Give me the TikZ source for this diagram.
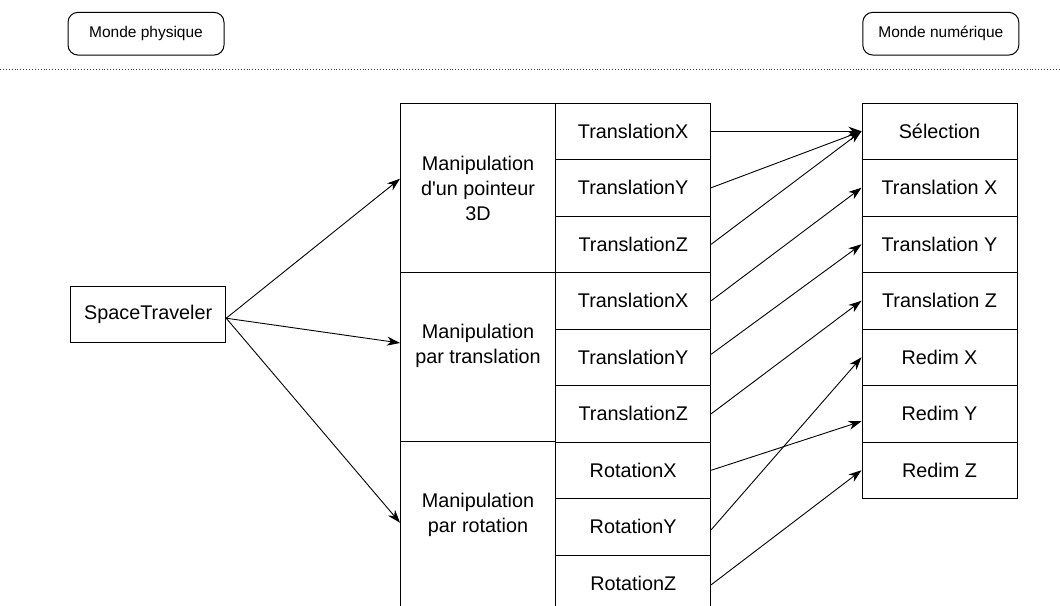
\documentclass[tikz,border=0pt]{standalone}
\usepackage{fontspec}
\setmainfont{Liberation Sans}[Ligatures=TeXOff]
\usetikzlibrary{arrows.meta,calc}
\tikzset{
  box/.style={draw=black, line width=1pt, inner sep=0pt, fill=white},
  lbl/.style={font=\fontsize{19.8}{25}\selectfont, align=center, inner sep=0pt},
  toplbl/.style={draw=black, line width=1pt, rounded corners=10pt, minimum width=156pt, minimum height=42.7pt, font=\fontsize{15.5}{19}\selectfont, inner sep=0pt},
  conn/.style={line width=0.9pt, -{Stealth[length=13pt,width=9pt,inset=4pt]}},
  sep/.style={line width=0.9pt, dotted, black!75}
}
\begin{document}
\begin{tikzpicture}[x=1pt,y=-1pt]
\clip (0,0) rectangle (1060,605);
\fill[white] (0,0) rectangle (1060,605);
% top labels
\node[toplbl] (mp) at (146,33.7) {Monde physique};
\node[toplbl] (mn) at (940.8,33.7) {Monde numérique};
\coordinate (dl) at (0,69.3);
\coordinate (dr) at (1060,69.3);
\draw[sep] (dl) -- (dr);
% SpaceTraveler
\node[box, lbl, minimum width=155pt, minimum height=56pt] (st) at (148.2,314.7) {SpaceTraveler};
% big boxes
\node[box, minimum width=155pt, minimum height=169.5pt] (b1) at (478,187.75) {};
\node[box, minimum width=155pt, minimum height=169pt] (b2) at (478,357) {};
\node[box, minimum width=155pt, minimum height=170pt] (b3) at (478,526.5) {};
\node[lbl] (b1t) at (478,188) {Manipulation\\d'un pointeur\\3D};
\node[lbl] (b2t) at (478,345.5) {Manipulation\\par translation};
\node[lbl] (b3t) at (478,515) {Manipulation\\par rotation};
% small boxes
\foreach \i/\t in {1/TranslationX,2/TranslationY,3/TranslationZ,4/TranslationX,5/TranslationY,6/TranslationZ,7/RotationX,8/RotationY,9/RotationZ}{
  \node[box, lbl, minimum width=155pt, minimum height=56.5pt] (s\i) at (633.2,{103+56.5*(\i-0.5)}) {\t};
}
% right column
\foreach \i/\t in {1/Sélection,2/Translation X,3/Translation Y,4/Translation Z,5/Redim X,6/Redim Y,7/Redim Z}{
  \node[box, lbl, minimum width=155pt, minimum height=56.5pt] (r\i) at (939.5,{103+56.5*(\i-0.5)}) {\t};
}
% connectors
\coordinate (sto) at ($(st.east)+(0,3.5)$);
\draw[conn] (sto) -- ($(b1.west)+(0,-9)$);
\draw[conn] (sto) -- ($(b2.west)+(0,-14)$);
\draw[conn] (sto) -- ($(b3.west)+(0,-3.8)$);
\draw[conn] (s1.east) -- (r1.west);
\draw[conn] (s2.east) -- (r1.west);
\draw[conn] (s3.east) -- (r1.west);
\draw[conn] (s4.east) -- (r2.west);
\draw[conn] ($(s5.east)+(0,-3)$) -- (r3.west);
\draw[conn] (s6.east) -- (r4.west);
\draw[conn] (s7.east) -- ($(r6.west)+(0,7.5)$);
\draw[conn] ($(s8.east)+(0,3)$) -- (r5.west);
\draw[conn] ($(s9.east)+(0,1.5)$) -- (r7.west);
\end{tikzpicture}
\end{document}
